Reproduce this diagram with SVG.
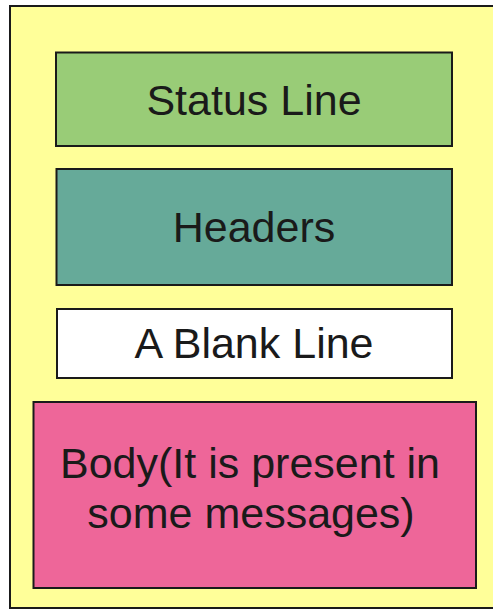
<svg xmlns="http://www.w3.org/2000/svg" width="493" height="611" viewBox="0 0 493 611">
<style>
.box{stroke:#1a1a1a;stroke-width:2}
.t{font-family:"Liberation Sans",Arial,sans-serif;font-size:43px;fill:#1a1a1a;text-anchor:middle}
</style>
<rect x="0" y="0" width="493" height="611" fill="#ffffff"/>
<g id="frame">
<rect x="10" y="6" width="500" height="602" fill="#ffff99" stroke="#1a1a1a" stroke-width="2"/>
</g>
<g id="status">
<rect class="box" x="56" y="52.5" width="396" height="93.5" fill="#99cc77"/>
<text class="t" x="254" y="115">Status Line</text>
</g>
<g id="headers">
<rect class="box" x="56.5" y="169" width="395.5" height="116" fill="#66aa99"/>
<text class="t" x="254" y="242">Headers</text>
</g>
<g id="blank">
<rect class="box" x="57" y="309" width="395" height="69" fill="#ffffff"/>
<text class="t" x="254" y="358">A Blank Line</text>
</g>
<g id="body">
<rect class="box" x="33.5" y="402" width="442.5" height="186" fill="#ee6699"/>
<text class="t" x="250" y="478">Body(It is present in</text>
<text class="t" x="251" y="528">some messages)</text>
</g>
<g id="connectors"></g>
</svg>
